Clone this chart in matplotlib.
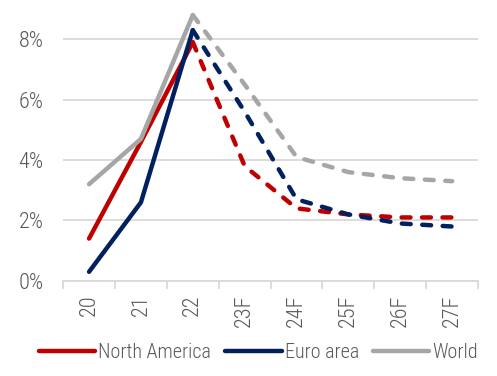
import matplotlib.pyplot as plt
from matplotlib.ticker import FixedLocator, FuncFormatter
import numpy as np

years = ["20", "21", "22", "23F", "24F", "25F", "26F", "27F"]
north_america = [1.4, 4.6, 7.9, 3.8, 2.4, 2.2, 2.1, 2.1]
euro_area = [0.3, 2.6, 8.3, 5.6, 2.7, 2.2, 1.9, 1.8]
world = [3.2, 4.7, 8.8, 6.5, 4.1, 3.6, 3.4, 3.3]

series = [("North America", north_america, "#C00000"),
          ("Euro area", euro_area, "#002060"),
          ("World", world, "#A6A6A6")]

plt.rcParams['font.family'] = ['Roboto Condensed', 'Roboto', 'DejaVu Sans']
plt.rcParams['font.weight'] = 'light'
text_col = "#595959"

fig = plt.figure(figsize=(4.97, 3.76), dpi=100)
ax = fig.add_axes([0.127, 0.253, 0.835, 0.723])

x = np.arange(len(years))
split = 2  # last actual year, forecasts after

# solid actuals
for name, vals, col in series:
    ax.plot(x[:split + 1], vals[:split + 1], color=col, lw=3.2, label=name,
            solid_capstyle='round', solid_joinstyle='round', zorder=3)
# dashed forecasts
for name, vals, col in series:
    ax.plot(x[split:], vals[split:], color=col, lw=3.2, linestyle=(0, (2, 2.6)),
            dash_capstyle='round', dash_joinstyle='round', zorder=4)

ax.set_xlim(-0.5, len(years) - 0.5)
ax.set_ylim(0, 9)
ax.set_yticks([0, 2, 4, 6, 8])
ax.yaxis.set_major_formatter(FuncFormatter(lambda v, p: f"{v:.0f}%"))
ax.grid(axis='y', color='#D9D9D9', lw=1.3)
ax.set_axisbelow(True)

for s in ['left', 'right', 'top']:
    ax.spines[s].set_visible(False)
ax.spines['bottom'].set_color('#D9D9D9')
ax.spines['bottom'].set_linewidth(1.3)

ax.set_xticks(x)
ax.set_xticklabels(years, rotation=90)
ax.xaxis.set_minor_locator(FixedLocator(np.arange(-0.5, len(years), 1)))
ax.tick_params(axis='x', which='major', length=0, pad=10, labelsize=16, labelcolor=text_col)
ax.tick_params(axis='x', which='minor', length=6, width=1.3, color='#D9D9D9', direction='out')
ax.tick_params(axis='y', length=0, pad=14, labelsize=16, labelcolor=text_col)

leg = fig.legend(loc='lower center', bbox_to_anchor=(0.52, -0.01), ncol=3, frameon=False,
                 fontsize=14.5, handlelength=2.8, handletextpad=0.15, columnspacing=0.7)
for t in leg.get_texts():
    t.set_color(text_col)

fig.savefig("out.png", dpi=100)
